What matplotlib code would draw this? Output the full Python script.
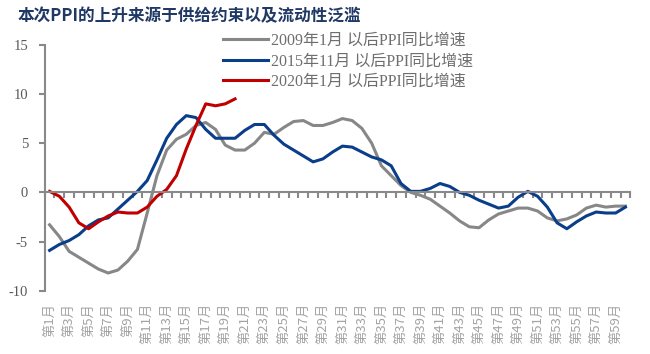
import matplotlib.pyplot as plt
import numpy as np

# PPI 同比增速 (%), 按月对齐
months = ['第%d月' % (i + 1) for i in range(60)]
ppi_2009 = [-3.3, -4.5, -6.0, -6.6, -7.2, -7.8, -8.2, -7.9, -7.0, -5.8, -2.1, 1.7,
            4.3, 5.4, 5.9, 6.8, 7.1, 6.4, 4.8, 4.3, 4.3, 5.0, 6.1, 5.9,
            6.6, 7.2, 7.3, 6.8, 6.8, 7.1, 7.5, 7.3, 6.5, 5.0, 2.7, 1.7,
            0.7, 0.0, -0.3, -0.7, -1.4, -2.1, -2.9, -3.5, -3.6, -2.8, -2.2, -1.9,
            -1.6, -1.6, -1.9, -2.6, -2.9, -2.7, -2.3, -1.6, -1.3, -1.5, -1.4, -1.4]
ppi_2015 = [-5.9, -5.3, -4.9, -4.3, -3.4, -2.8, -2.6, -1.7, -0.8, 0.1, 1.2, 3.3,
            5.5, 6.9, 7.8, 7.6, 6.4, 5.5, 5.5, 5.5, 6.3, 6.9, 6.9, 5.8,
            4.9, 4.3, 3.7, 3.1, 3.4, 4.1, 4.7, 4.6, 4.1, 3.6, 3.3, 2.7,
            0.9, 0.1, 0.1, 0.4, 0.9, 0.6, 0.0, -0.3, -0.8, -1.2, -1.6, -1.4,
            -0.5, 0.1, -0.4, -1.5, -3.1, -3.7, -3.0, -2.4, -2.0, -2.1, -2.1, -1.5]
ppi_2020 = [0.1, -0.4, -1.5, -3.1, -3.7, -3.0, -2.4, -2.0, -2.1, -2.1,
            -1.5, -0.4, 0.3, 1.7, 4.4, 6.8, 9.0, 8.8, 9.0, 9.5]
series_labels = ['2009年1月 以后PPI同比增速', '2015年11月 以后PPI同比增速', '2020年1月 以后PPI同比增速']

serif = ['Liberation Serif', 'Noto Sans CJK SC']
axis_gray = '#898989'

fig = plt.figure(figsize=(6.5, 3.54), dpi=100)
ax = fig.add_axes([0.0688, 0.1788, 0.9009, 0.6946])

x = np.arange(len(months))
ax.plot(x, ppi_2009, color='#878787', lw=2.2, label=series_labels[0])
ax.plot(x[:len(ppi_2015)], ppi_2015, color='#0a3d8a', lw=2.2, label=series_labels[1])
ax.plot(x[:len(ppi_2020)], ppi_2020, color='#c00000', lw=2.2, label=series_labels[2])

ax.set_xlim(-0.5, len(months) - 0.5)
ax.set_ylim(-10, 15)
ax.set_yticks([-10, -5, 0, 5, 10, 15])
ax.set_yticklabels(['-10', '-5', '0', '5', '10', '15'], fontfamily=serif, fontsize=10.5, color='#595959')

# x 轴线放在 0 处, 标签在下方
ax.spines['right'].set_visible(False)
ax.spines['bottom'].set_visible(False)
ax.spines['top'].set_position(('data', 0))
ax.spines['top'].set_color(axis_gray)
ax.spines['top'].set_linewidth(1.5)
ax.spines['left'].set_color(axis_gray)
ax.spines['left'].set_linewidth(1.5)

ax.set_xticks(x[::2])
ax.set_xticklabels(months[::2], rotation=90, fontfamily='Noto Sans CJK SC', fontsize=9.5, color='#a3a3a3')
ax.set_xticks(np.arange(-0.5, len(months), 1), minor=True)
ax.tick_params(axis='x', which='major', bottom=True, top=False, length=0, pad=9)
ax.tick_params(axis='x', which='minor', bottom=False, top=True, direction='in', length=4.5, width=1.5, color=axis_gray)
ax.tick_params(axis='y', length=4, width=1.5, color=axis_gray, pad=8)

leg = ax.legend(loc='upper left', bbox_to_anchor=(0.2935, 1.075), frameon=False, handlelength=2.8,
                handletextpad=0.2, labelspacing=0.28, prop={'family': serif, 'size': 11.5}, borderaxespad=0)
for t in leg.get_texts():
    t.set_color('#6e6e6e')

fig.text(18 / 650, 1 - 16.5 / 354, '本次PPI的上升来源于供给约束以及流动性泛滥', fontfamily='Noto Sans CJK SC',
         fontweight='bold', fontsize=12, color='#1f3864', va='center', ha='left')

plt.savefig('out.png', dpi=100)
